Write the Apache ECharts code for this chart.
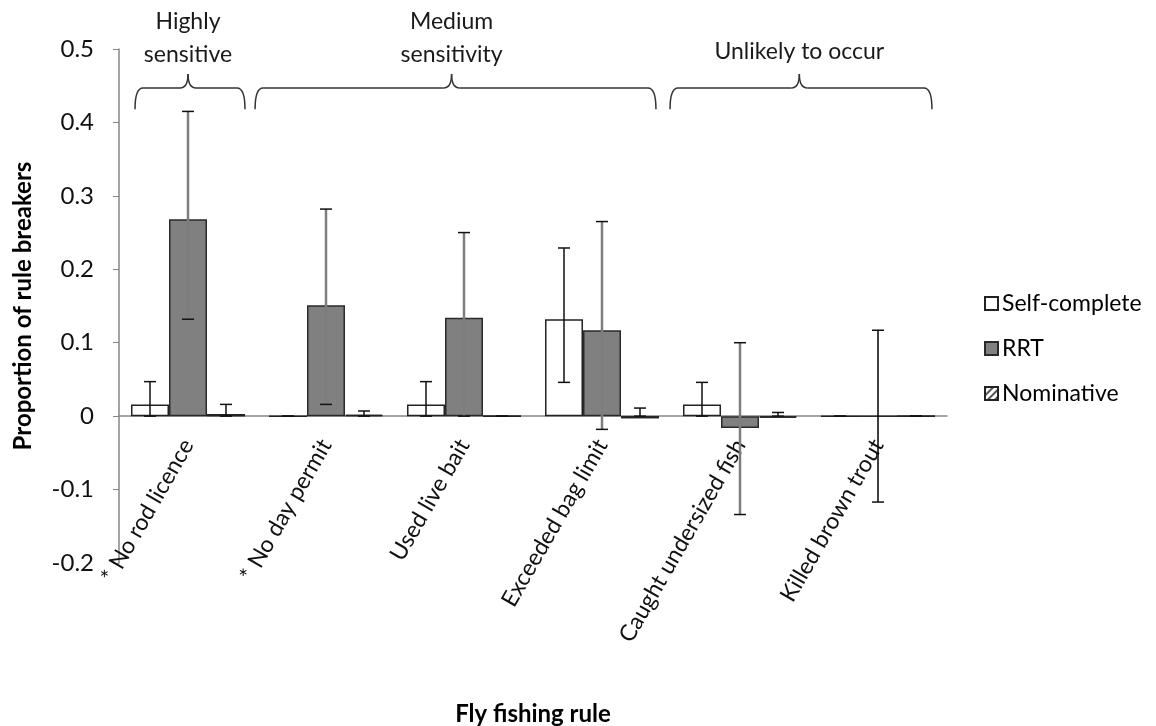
<!DOCTYPE html>
<html>
<head>
<meta charset="utf-8">
<script src="https://cdn.jsdelivr.net/npm/echarts@6/dist/echarts.min.js"></script>
<style>html,body{margin:0;padding:0;background:#fff;}#c{width:1156px;height:726px;}</style>
</head>
<body>
<div id="c"></div>
<script>
// ---- data ----
const categories = ['* No rod licence', '* No day permit', 'Used live bait', 'Exceeded bag limit', 'Caught undersized fish', 'Killed brown trout'];
const seriesNames = ['Self-complete', 'RRT', 'Nominative'];
const selfValues = [0.016, 0, 0.016, 0.132, 0.016, 0];
const selfLow    = [0, 0, 0, 0.046, 0, 0];
const selfHigh   = [0.047, 0, 0.047, 0.229, 0.046, 0];
const rrtValues  = [0.268, 0.151, 0.134, 0.117, -0.016, 0];
const rrtLow     = [0.132, 0.016, 0, -0.018, -0.134, -0.117];
const rrtHigh    = [0.415, 0.282, 0.250, 0.265, 0.100, 0.117];
const nomValues  = [0.003, 0.002, 0, -0.003, -0.002, 0];
const nomLow     = [0, 0, 0, 0, 0, 0];
const nomHigh    = [0.016, 0.007, 0, 0.011, 0.005, 0];
const yTicks = { min: -0.2, max: 0.5, interval: 0.1 };
const groups = [
  { label: 'Highly\nsensitive', from: -0.384, to: 0.413, peak: 0.0 },
  { label: 'Medium\nsensitivity', from: 0.486, to: 3.391, peak: 1.91 },
  { label: 'Unlikely to occur', from: 3.493, to: 5.391, peak: 4.43 }
];
const yTitle = 'Proportion of rule breakers';
const xTitle = 'Fly fishing rule';

// ---- chart ----
const FONT = 'Lato, "Open Sans", sans-serif';
const CAT_GAP = 0.174;
const chart = echarts.init(document.getElementById('c'));

function errSeries(idx, low, high, color, width) {
  return {
    type: 'custom',
    name: seriesNames[idx] + ' err',
    z: 10,
    silent: true,
    data: categories.map((c, i) => [i, low[i], high[i]]),
    renderItem: function (params, api) {
      const i = api.value(0);
      const band = api.size([1, 0])[0];
      const bw = band * (1 - CAT_GAP) / 3;
      const center = api.coord([i, 0])[0];
      const x = center + (idx - 1) * bw;
      const yl = api.coord([i, api.value(1)])[1];
      const yh = api.coord([i, api.value(2)])[1];
      const cap = 6;
      let col = color, lw = width;
      if (idx === 1 && i === 5) { col = '#000'; lw = 1.5; }
      const st = { stroke: col, lineWidth: lw };
      const capSt = { stroke: '#111', lineWidth: 1.5 };
      return {
        type: 'group',
        children: [
          { type: 'line', shape: { x1: x, y1: yl, x2: x, y2: yh }, style: st },
          { type: 'line', shape: { x1: x - cap, y1: yl, x2: x + cap, y2: yl }, style: capSt },
          { type: 'line', shape: { x1: x - cap, y1: yh, x2: x + cap, y2: yh }, style: capSt }
        ]
      };
    }
  };
}

const option = {
  animation: false,
  backgroundColor: '#fff',
  grid: { left: 119, right: 209, top: 49, bottom: 163, containLabel: false, outerBoundsMode: 'none' },
  legend: {
    orient: 'vertical',
    left: 979,
    top: 287,
    itemWidth: 13,
    itemHeight: 13,
    itemGap: 22,
    icon: 'rect',
    data: seriesNames,
    textStyle: { fontFamily: FONT, fontSize: 23, color: '#000', padding: [0, 0, 0, -1] }
  },
  xAxis: {
    type: 'category',
    data: categories,
    offset: 0,
    axisLine: { show: true, onZero: false, lineStyle: { color: '#868686', width: 1.5 } },
    axisTick: { show: false },
    axisLabel: { interval: 0, rotate: 60, margin: 25, fontFamily: FONT, fontSize: 23, color: '#111' }
  },
  yAxis: {
    type: 'value',
    min: yTicks.min, max: yTicks.max, interval: yTicks.interval,
    name: yTitle,
    nameLocation: 'middle',
    nameGap: 84,
    nameTextStyle: { fontFamily: FONT, fontSize: 24, fontWeight: 'bold', color: '#000' },
    axisLine: { show: true, lineStyle: { color: '#868686', width: 1.5 } },
    axisTick: { show: true, length: 6, lineStyle: { color: '#868686' } },
    splitLine: { show: false },
    axisLabel: { fontFamily: FONT, fontSize: 24, color: '#111', margin: 25, align: 'right' }
  },
  series: [
    {
      name: seriesNames[0], type: 'bar', data: selfValues,
      barGap: '0%', barCategoryGap: (CAT_GAP * 100) + '%',
      itemStyle: { color: '#ffffff', borderColor: '#222', borderWidth: 1.5 }
    },
    {
      name: seriesNames[1], type: 'bar', data: rrtValues,
      barGap: '0%', barCategoryGap: (CAT_GAP * 100) + '%',
      itemStyle: { color: '#808080', borderColor: '#2a2a2a', borderWidth: 1.5 }
    },
    {
      name: seriesNames[2], type: 'bar', data: nomValues,
      barGap: '0%', barCategoryGap: (CAT_GAP * 100) + '%',
      itemStyle: {
        color: '#ffffff', borderColor: '#222', borderWidth: 1.5,
        decal: { symbol: 'rect', symbolSize: 1, dashArrayX: [1, 0], dashArrayY: [1.5, 2.5], rotation: -Math.PI / 4, color: '#555' }
      }
    },
    errSeries(0, selfLow, selfHigh, '#111', 1.5),
    errSeries(1, rrtLow, rrtHigh, '#7d7d7d', 2.5),
    errSeries(2, nomLow, nomHigh, '#111', 1.5)
  ]
};
chart.setOption(option);

// ---- move category axis (line + labels) to the zero line ----
const y50 = chart.convertToPixel({ yAxisIndex: 0 }, 0.5);
const y0 = chart.convertToPixel({ yAxisIndex: 0 }, 0);
const yMin = chart.convertToPixel({ yAxisIndex: 0 }, yTicks.min);
chart.setOption({ xAxis: { offset: -(yMin - y0) } });

// ---- brackets and group labels ----
const p0 = chart.convertToPixel({ xAxisIndex: 0 }, 0);
const p1 = chart.convertToPixel({ xAxisIndex: 0 }, 1);
const band = p1 - p0;
const xu = u => p0 + u * band;
const unit = (y0 - y50) / 0.5;
const yv = v => y0 - v * unit;

const gfx = [];
const braceStyle = { stroke: '#333', lineWidth: 1.5, fill: null };
groups.forEach(g => {
  const x1 = xu(g.from), x2 = xu(g.to), xc = xu(g.peak);
  const yBot = yv(0.418), yMid = yv(0.447), yTop = yv(0.466);
  const r = 8;
  gfx.push({ type: 'bezierCurve', shape: { x1: x1, y1: yBot, cpx1: x1, cpy1: yMid, x2: x1 + r, y2: yMid }, style: braceStyle });
  gfx.push({ type: 'line', shape: { x1: x1 + r, y1: yMid, x2: xc - r, y2: yMid }, style: braceStyle });
  gfx.push({ type: 'bezierCurve', shape: { x1: xc - r, y1: yMid, cpx1: xc, cpy1: yMid, x2: xc, y2: yTop }, style: braceStyle });
  gfx.push({ type: 'bezierCurve', shape: { x1: xc, y1: yTop, cpx1: xc, cpy1: yMid, x2: xc + r, y2: yMid }, style: braceStyle });
  gfx.push({ type: 'line', shape: { x1: xc + r, y1: yMid, x2: x2 - r, y2: yMid }, style: braceStyle });
  gfx.push({ type: 'bezierCurve', shape: { x1: x2 - r, y1: yMid, cpx1: x2, cpy1: yMid, x2: x2, y2: yBot }, style: braceStyle });
  const twoLines = g.label.indexOf('\n') >= 0;
  gfx.push({
    type: 'text',
    style: {
      x: xc, y: twoLines ? 38 : 52,
      text: g.label, textAlign: 'center', textVerticalAlign: 'middle',
      font: '23px ' + FONT, fill: '#1a1a1a', lineHeight: 33
    }
  });
});
const gridMid = (xu(-0.5) + xu(categories.length - 0.5)) / 2;
gfx.push({
  type: 'text',
  style: { x: gridMid, y: 714, text: xTitle, textAlign: 'center', textVerticalAlign: 'middle', font: 'bold 24px ' + FONT, fill: '#000' }
});
chart.setOption({ graphic: gfx });
</script>
</body>
</html>
